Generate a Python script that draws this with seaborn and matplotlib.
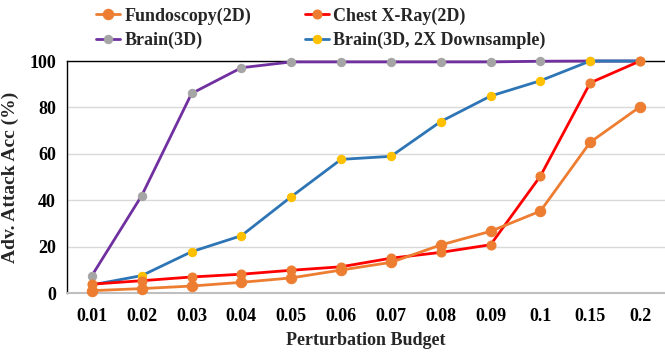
import matplotlib
matplotlib.use("Agg")
import matplotlib.pyplot as plt
import seaborn as sns
import pandas as pd

budgets = ["0.01", "0.02", "0.03", "0.04", "0.05", "0.06",
           "0.07", "0.08", "0.09", "0.1", "0.15", "0.2"]
fundoscopy_2d = [1.0, 1.9, 3.0, 4.6, 6.5, 9.9, 13.2, 20.7, 26.6, 35.3, 65.0, 80.3]
chest_xray_2d = [3.8, 5.3, 6.9, 8.1, 9.8, 11.3, 15.0, 17.5, 20.8, 50.4, 90.6, 100.0]
brain_3d = [7.5, 42.0, 86.0, 97.1, 99.6, 99.6, 99.6, 99.6, 99.6, 99.9, 100.0, 100.0]
brain_3d_down = [3.5, 7.5, 17.8, 24.7, 41.5, 57.6, 58.9, 73.9, 84.9, 91.5, 100.0, 100.0]

sns.set_theme(style="white")
plt.rcParams["font.family"] = ["Liberation Serif", "DejaVu Serif"]
plt.rcParams["font.weight"] = "bold"

fig = plt.figure(figsize=(6.65, 3.53), dpi=100)
ax = fig.add_axes([67 / 665, 1 - 293 / 353, 598 / 665, 232 / 353])

series = [
    ("Brain(3D)", brain_3d, "#7030A0", "#A5A5A5", 6),
    ("Brain(3D, 2X Downsample)", brain_3d_down, "#2E75B6", "#FFC000", 6),
    ("Chest X-Ray(2D)", chest_xray_2d, "#FF0000", "#ED7D31", 6.5),
    ("Fundoscopy(2D)", fundoscopy_2d, "#ED7D31", "#ED7D31", 7.5),
]

handles = {}
for name, vals, lc, mc, ms in series:
    df = pd.DataFrame({"budget": budgets, "acc": vals})
    sns.lineplot(data=df, x="budget", y="acc", sort=False, ax=ax,
                 color=lc, linewidth=2.0, marker="o", markersize=ms,
                 markerfacecolor=mc, markeredgecolor=mc, clip_on=False,
                 label=name, zorder=3)
    handles[name] = ax.get_lines()[-1]

ax.set_ylim(0, 100)
ax.set_xlim(-0.5, len(budgets) - 0.5)
ax.set_yticks([0, 20, 40, 60, 80, 100])
ax.yaxis.grid(True, color="#D9D9D9", linewidth=1.0)
ax.xaxis.grid(False)
ax.set_axisbelow(True)

ax.spines["right"].set_visible(False)
ax.spines["left"].set_color("black")
ax.spines["left"].set_linewidth(1.0)
ax.spines["top"].set_color("black")
ax.spines["top"].set_linewidth(1.0)
ax.spines["bottom"].set_color("#BFBFBF")
ax.spines["bottom"].set_linewidth(1.5)

ax.tick_params(axis="both", length=0, labelsize=13, colors="black")
ax.tick_params(axis="x", pad=11)
ax.tick_params(axis="y", pad=8)
for lbl in ax.get_xticklabels() + ax.get_yticklabels():
    lbl.set_fontweight("bold")

ax.set_xlabel("Perturbation Budget", fontsize=13, fontweight="bold", labelpad=5)
ax.set_ylabel("Adv. Attack Acc (%)", fontsize=14, fontweight="bold", labelpad=7)

ax.get_legend().remove()
order = ["Fundoscopy(2D)", "Brain(3D)", "Chest X-Ray(2D)", "Brain(3D, 2X Downsample)"]
fig.legend([handles[n] for n in order], order, ncol=2, loc="upper left",
           bbox_to_anchor=(80 / 665, 1.025), frameon=False,
           prop={"family": ["Liberation Serif"], "weight": "bold", "size": 13},
           handlelength=1.3, handletextpad=0.25, columnspacing=3.0,
           labelspacing=0.4)

fig.savefig("out.png", dpi=100)
